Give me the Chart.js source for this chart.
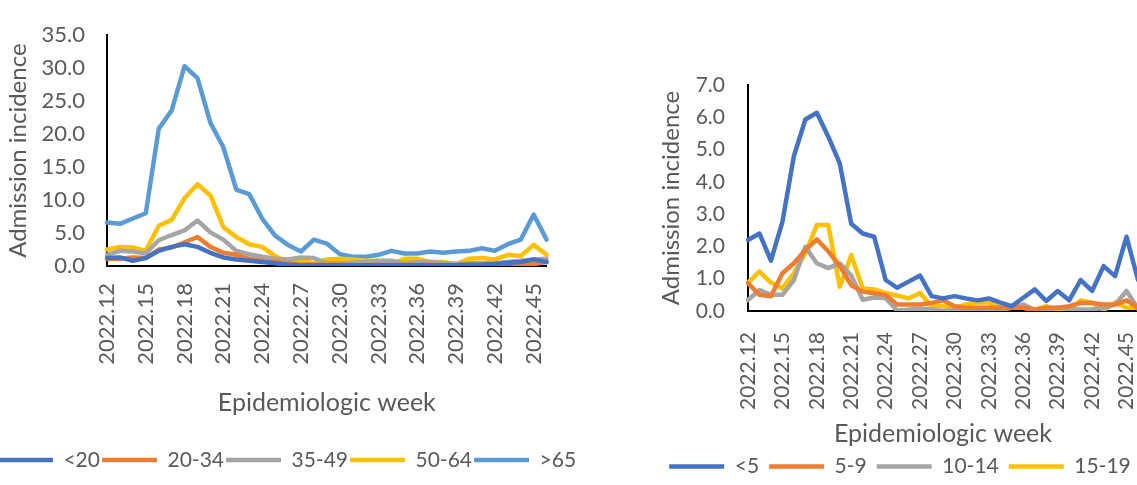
<!DOCTYPE html>
<html>
<head>
<meta charset="utf-8">
<script src="https://cdn.jsdelivr.net/npm/chart.js@4"></script>
<style>
  html, body { margin: 0; padding: 0; background: #fff; overflow: hidden; }
  #left { position: absolute; left: -16px; top: 0; width: 606px; height: 485px; }
  #right { position: absolute; left: 600px; top: 0; width: 600px; height: 487px; }
</style>
</head>
<body>
<div id="left"><canvas id="adultChart"></canvas></div>
<div id="right"><canvas id="childChart"></canvas></div>
<script>
// epidemiologic weeks 2022.12 .. 2022.46
const weeks = ['2022.12','2022.13','2022.14','2022.15','2022.16','2022.17','2022.18','2022.19','2022.20','2022.21',
  '2022.22','2022.23','2022.24','2022.25','2022.26','2022.27','2022.28','2022.29','2022.30','2022.31',
  '2022.32','2022.33','2022.34','2022.35','2022.36','2022.37','2022.38','2022.39','2022.40','2022.41',
  '2022.42','2022.43','2022.44','2022.45','2022.46'];

// left chart: age groups
const under20 = [1.2,1.3,0.8,1.2,2.3,2.9,3.3,2.9,2.0,1.3,1.0,0.8,0.6,0.4,0.2,0.1,0.1,0.1,0.1,0.1,
  0.1,0.1,0.1,0.1,0.1,0.1,0.1,0.1,0.2,0.2,0.3,0.5,0.6,1.0,0.6];
const age20to34 = [1.1,1.1,1.3,1.2,2.5,2.8,3.6,4.4,2.9,2.0,1.7,1.1,0.8,0.6,0.4,0.2,0.2,0.2,0.2,0.1,
  0.1,0.2,0.1,0.2,0.1,0.2,0.1,0.1,0.2,0.2,0.2,0.4,0.3,0.3,0.6];
const age35to49 = [1.7,2.3,2.2,1.9,3.9,4.7,5.4,6.9,5.1,4.0,2.3,1.8,1.4,1.1,1.0,1.3,1.2,0.4,0.4,0.5,
  0.6,0.8,0.8,0.4,0.6,0.6,0.4,0.3,0.4,0.4,0.4,0.6,0.8,1.0,1.1];
const age50to64 = [2.5,2.9,2.8,2.3,6.1,7.0,10.3,12.4,10.7,5.9,4.4,3.3,2.9,1.5,0.5,0.9,0.4,1.0,1.1,1.0,
  0.8,0.8,0.2,1.1,1.1,0.6,0.6,0.3,1.1,1.2,1.0,1.7,1.5,3.2,1.7];
const over65 = [6.6,6.4,7.2,8.0,20.8,23.6,30.3,28.5,21.7,18.0,11.6,10.9,7.2,4.6,3.2,2.2,4.0,3.4,1.8,1.4,
  1.4,1.7,2.3,1.9,1.9,2.2,2.0,2.2,2.3,2.7,2.3,3.3,4.0,7.8,4.0];

// right chart: children
const under5 = [2.2,2.4,1.56,2.76,4.8,5.93,6.14,5.4,4.57,2.7,2.4,2.3,0.96,0.72,0.91,1.1,0.46,0.39,0.46,0.39,
  0.33,0.39,0.26,0.15,0.41,0.67,0.31,0.62,0.33,0.96,0.62,1.39,1.08,2.3,0.96];
const age5to9 = [0.86,0.5,0.46,1.17,1.48,1.89,2.22,1.85,1.4,0.8,0.6,0.55,0.5,0.2,0.2,0.2,0.25,0.33,0.15,0.1,
  0.1,0.1,0.1,0.1,0.1,0.05,0.1,0.1,0.15,0.25,0.25,0.2,0.2,0.33,0.1];
const age10to14 = [0.34,0.65,0.5,0.5,0.96,1.99,1.48,1.33,1.48,1.1,0.35,0.42,0.4,0.01,0.05,0.07,0.05,0.0,0.03,0.07,
  0.05,0.0,0.03,0.1,0.2,0.03,0.05,0.1,0.05,0.05,0.05,0.1,0.2,0.62,0.07];
const age15to19 = [0.88,1.22,0.88,0.7,1.17,1.79,2.66,2.66,0.75,1.73,0.7,0.67,0.56,0.48,0.39,0.56,0.15,0.15,0.1,0.2,
  0.26,0.26,0.1,0.15,0.1,0.03,0.15,0.03,0.03,0.33,0.26,0.03,0.26,0.1,0.1];

const BLUE = '#4472C4';
const ORANGE = '#ED7D31';
const GRAY = '#A5A5A5';
const GOLD = '#FFC000';
const LIGHTBLUE = '#5B9BD5';
const TEXT = '#595959';
const FONT = 'Lato, "Liberation Sans", sans-serif';

function series(label, data, color) {
    return {
        label,
        data,
        borderColor: color,
        backgroundColor: color,
        borderWidth: 4.5,
        borderJoinStyle: 'round',
        borderCapStyle: 'round',
        pointRadius: 0,
        tension: 0,
    };
}

function createChart(canvasId, datasets, opts) {
    const canvas = document.getElementById(canvasId);
    return new Chart(canvas, {
        type: 'line',
        data: { labels: weeks, datasets },
        options: {
            responsive: true,
            maintainAspectRatio: false,
            animation: false,
            layout: { padding: opts.padding },
            plugins: {
                tooltip: { enabled: false },
                legend: {
                    position: 'bottom',
                    labels: {
                        color: TEXT,
                        font: { family: FONT, size: 21 },
                        usePointStyle: true,
                        pointStyle: 'line',
                        pointStyleWidth: 55,
                        padding: opts.legendPad,
                    },
                },
            },
            scales: {
                x: {
                    grid: { color: 'transparent', drawTicks: false },
                    border: { display: true, color: '#000', width: 2 },
                    ticks: {
                        color: TEXT,
                        font: { family: FONT, size: opts.tickSize },
                        autoSkip: false,
                        minRotation: 90,
                        maxRotation: 90,
                        padding: opts.xTickPad,
                        callback: function (value, index) {
                            return index % 3 === 0 ? this.getLabelForValue(value) : '';
                        },
                    },
                    title: {
                        display: true,
                        text: 'Epidemiologic week',
                        color: TEXT,
                        font: { family: FONT, size: 25 },
                        padding: { top: 0, bottom: opts.xTitlePad },
                    },
                    afterFit: (scale) => { scale.height = opts.xHeight; },
                },
                y: {
                    min: 0,
                    max: opts.yMax,
                    grid: { color: 'transparent', drawTicks: false },
                    border: { display: true, color: '#000', width: 2 },
                    ticks: {
                        color: TEXT,
                        font: { family: FONT, size: opts.tickSize },
                        stepSize: opts.yStep,
                        autoSkip: false,
                        padding: opts.yTickPad,
                        callback: (v) => v.toFixed(1),
                    },
                    title: {
                        display: true,
                        text: 'Admission incidence',
                        color: TEXT,
                        font: { family: FONT, size: 24 },
                        padding: { top: opts.yTitlePad, bottom: 0 },
                    },
                    afterFit: (scale) => { scale.width = opts.yWidth; },
                },
                // empty spacer on the right so the legend can use the full width
                spacer: {
                    type: 'linear',
                    axis: 'y',
                    position: 'right',
                    display: true,
                    grid: { display: false },
                    border: { display: false },
                    ticks: { display: false },
                    afterFit: (scale) => { scale.width = opts.rightGap; },
                },
            },
        },
    });
}

createChart('adultChart', [
    series('<20', under20, BLUE),
    series('20-34', age20to34, ORANGE),
    series('35-49', age35to49, GRAY),
    series('50-64', age50to64, GOLD),
    series('>65', over65, LIGHTBLUE),
], {
    padding: { top: 17, left: 0, right: 0, bottom: 4.5 },
    yMax: 35, yStep: 5, yWidth: 123, yTickPad: 22, yTitlePad: 20,
    rightGap: 21, tickSize: 22, legendPad: 2,
    xHeight: 181.5, xTickPad: 17, xTitlePad: 29.5,
});

createChart('childChart', [
    series('<5', under5, BLUE),
    series('5-9', age5to9, ORANGE),
    series('10-14', age10to14, GRAY),
    series('15-19', age15to19, GOLD),
], {
    padding: { top: 85, left: 0, right: 0, bottom: 0 },
    yMax: 7, yStep: 1, yWidth: 148, yTickPad: 23, yTitlePad: 57,
    rightGap: 62, tickSize: 21, legendPad: 10,
    xHeight: 135, xTickPad: 21, xTitlePad: -3,
});
</script>
</body>
</html>
